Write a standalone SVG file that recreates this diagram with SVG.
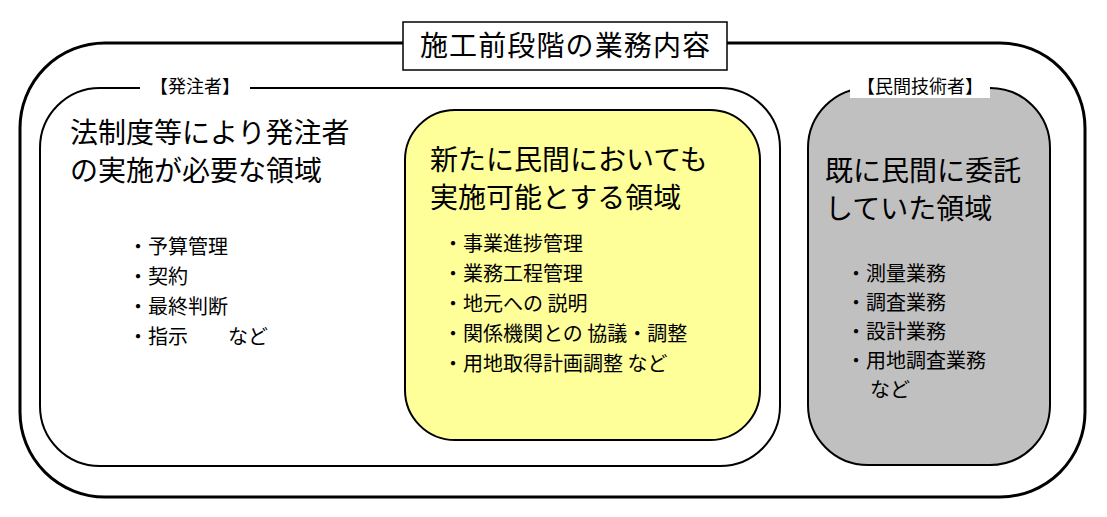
<svg xmlns="http://www.w3.org/2000/svg" width="1107" height="517" viewBox="0 0 1107 517">
<style>
text{font-family:"Noto Sans CJK JP","Noto Sans CJK SC",sans-serif;fill:#000}
.big{font-size:28px}
.sm{font-size:20px}
.lbl{font-size:18px}
</style>
<rect width="1107" height="517" fill="#fff"/>
<g id="outer"><rect x="20" y="43" width="1065" height="454" rx="85" fill="#fff" stroke="#000" stroke-width="3"/></g>
<g id="title"><rect x="403" y="22" width="324" height="48" fill="#fff" stroke="#000" stroke-width="1.5"/><text x="565" y="56" class="big" text-anchor="middle" textLength="290">施工前段階の業務内容</text></g>
<g id="hacchusha">
<rect x="40" y="88" width="740" height="378" rx="60" fill="#fff" stroke="#000" stroke-width="2"/>
<rect x="140" y="76" width="110" height="22" fill="#fff"/>
<text x="195" y="93" class="lbl" text-anchor="middle">【発注者】</text>
<text x="70" y="143" class="big">法制度等により発注者</text>
<text x="70" y="181" class="big">の実施が必要な領域</text>
<text x="128" y="254" class="sm">・予算管理</text>
<text x="128" y="284" class="sm">・契約</text>
<text x="128" y="314" class="sm">・最終判断</text>
<text x="128" y="344" class="sm">・指示　　など</text>
</g>
<g id="yellow">
<rect x="405" y="110" width="355" height="330" rx="50" fill="#ffff99" stroke="#000" stroke-width="2"/>
<text x="430" y="170" class="big">新たに民間においても</text>
<text x="430" y="208" class="big">実施可能とする領域</text>
<text x="443" y="251" class="sm">・事業進捗管理</text>
<text x="443" y="281" class="sm">・業務工程管理</text>
<text x="443" y="311" class="sm">・地元への 説明</text>
<text x="443" y="341" class="sm">・関係機関との 協議・調整</text>
<text x="443" y="371" class="sm">・用地取得計画調整  など</text>
</g>
<g id="minkan">
<rect x="808" y="88" width="242" height="377" rx="60" fill="#c0c0c0" stroke="#000" stroke-width="2"/>
<rect x="850" y="76" width="140" height="22" fill="#fff"/>
<text x="920" y="93" class="lbl" text-anchor="middle">【民間技術者】</text>
<text x="825" y="181" class="big">既に民間に委託</text>
<text x="825" y="219" class="big">していた領域</text>
<text x="846" y="281" class="sm">・測量業務</text>
<text x="846" y="310" class="sm">・調査業務</text>
<text x="846" y="339" class="sm">・設計業務</text>
<text x="846" y="368" class="sm">・用地調査業務</text>
<text x="870" y="397" class="sm">など</text>
</g>
<g id="connectors"></g>
</svg>
